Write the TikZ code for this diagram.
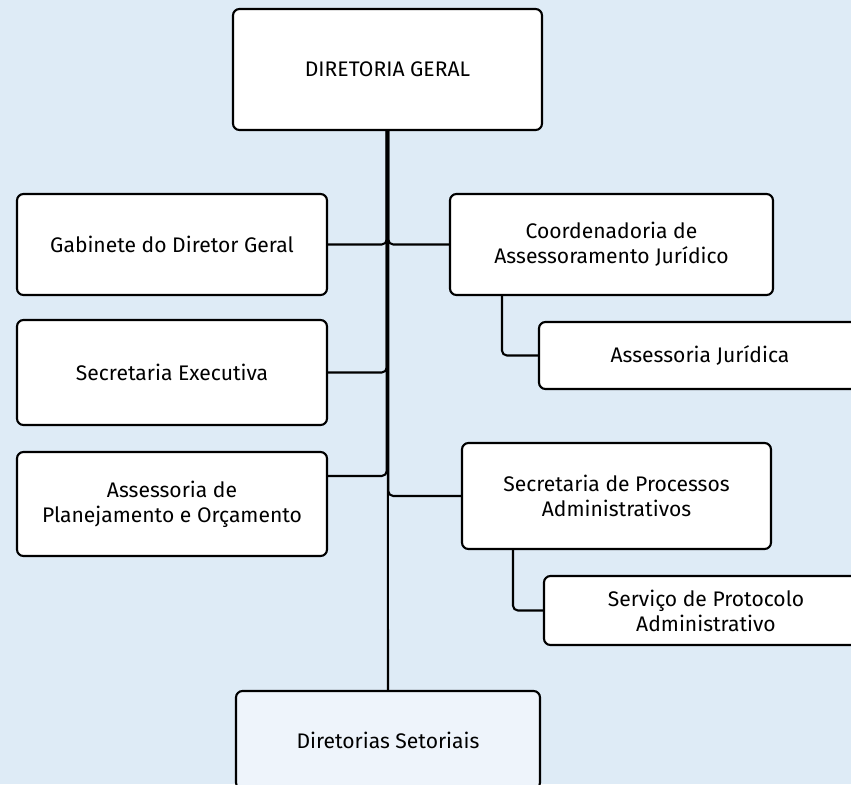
\documentclass[tikz,border=0pt]{standalone}
\usepackage{fontspec}
\setmainfont{Fira Sans}
\usetikzlibrary{positioning}
\definecolor{bgblue}{HTML}{DEEBF6}
\definecolor{paleblue}{HTML}{EEF4FB}
\tikzset{
    orgbox/.style = {rectangle, rounded corners=1.3mm, line width=0.42mm, draw=black, fill=white, align=center, font=\fontsize{12}{14.2}\selectfont, inner sep=0pt},
    orgboxl/.style = {orgbox, fill=paleblue},
    conn/.style = {line width=0.42mm, draw=black, rounded corners=1mm}
}
\begin{document}
\begin{tikzpicture}[x=0.2mm, y=-0.2mm]
  \fill[bgblue] (0,0) rectangle (851,784);
  \useasboundingbox (0,0) rectangle (851,784);
  \clip (0,0) rectangle (851,784);

  \node[orgbox, minimum width=61.8mm, minimum height=24.2mm] at (387.5,69.5) (dg) {DIRETORIA GERAL};

  \node[orgbox, minimum width=62mm, minimum height=20.2mm] at (172,244.5) (gab) {Gabinete do Diretor Geral};
  \node[orgbox, minimum width=62mm, minimum height=21mm] at (172,372.5) (secex) {Secretaria Executiva};
  \node[orgbox, minimum width=62mm, minimum height=20.8mm] at (172,504) (aspl) {Assessoria de\\Planejamento e Orçamento};

  \node[orgbox, minimum width=64.6mm, minimum height=20.2mm] at (611.5,244.5) (coord) {Coordenadoria de\\Assessoramento Jurídico};
  \node[orgbox, minimum width=64.4mm, minimum height=13.4mm] at (700,355.5) (asj) {Assessoria Jurídica};
  \node[orgbox, minimum width=61.8mm, minimum height=21.2mm] at (616.5,496) (spa) {Secretaria de Processos\\Administrativos};
  \node[orgbox, minimum width=64.8mm, minimum height=13.8mm] at (706,610.5) (spro) {Serviço de Protocolo\\Administrativo};

  \node[orgboxl, minimum width=60.8mm, minimum height=19.6mm] at (388,740) (ds) {Diretorias Setoriais};

  % trunk
  \draw[conn] (dg.south) -- (ds.north);
  % left side
  \draw[conn] ([xshift=-0.15mm]dg.south) |- (gab.east);
  \draw[conn] ([xshift=-0.15mm]dg.south) |- (secex.east);
  \draw[conn] ([xshift=-0.15mm]dg.south) |- ([yshift=5.6mm]aspl.east);
  % right side
  \draw[conn] ([xshift=0.15mm]dg.south) |- (coord.west);
  \draw[conn] ([xshift=0.15mm]dg.south) |- (spa.west);
  % sub levels
  \draw[conn] ([xshift=10.6mm]coord.south west) |- (asj.west);
  \draw[conn] ([xshift=10.4mm]spa.south west) |- (spro.west);
\end{tikzpicture}
\end{document}
